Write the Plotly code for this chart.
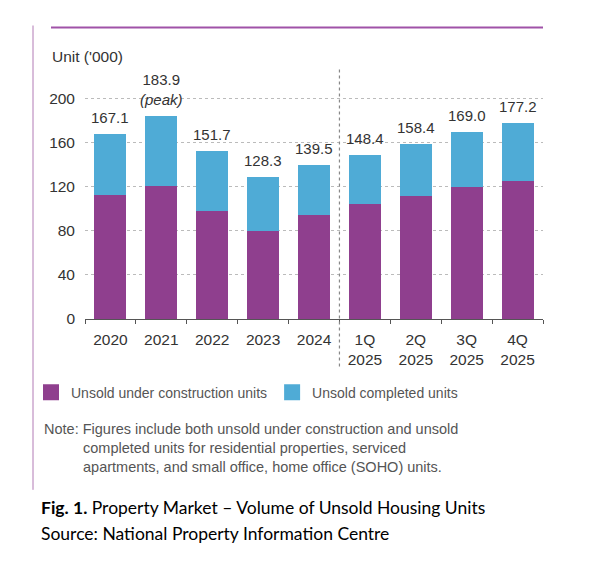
import plotly.graph_objects as go

categories = ["2020", "2021", "2022", "2023", "2024", "1Q<br>2025", "2Q<br>2025", "3Q<br>2025", "4Q<br>2025"]
under_construction = [112.3, 120.1, 97.8, 80.0, 94.2, 104.5, 111.1, 119.6, 125.3]
completed = [54.8, 63.8, 53.9, 48.3, 45.3, 43.9, 47.3, 49.4, 51.9]
totals = [167.1, 183.9, 151.7, 128.3, 139.5, 148.4, 158.4, 169.0, 177.2]
total_labels = ["167.1", "183.9<br><i>(peak)</i>", "151.7", "128.3", "139.5", "148.4", "158.4", "169.0", "177.2"]
y_ticks = [0, 40, 80, 120, 160, 200]
series_names = ["Unsold under construction units", "Unsold completed units"]

PURPLE = "#8F3F8E"
BLUE = "#4FABD6"
FONT = "Liberation Sans, Arial, sans-serif"
CAP_FONT = "Lato, Open Sans, sans-serif"

fig = go.Figure()
fig.add_trace(go.Bar(
    x=categories, y=under_construction, name=series_names[0], showlegend=False,
    marker=dict(color=PURPLE, line=dict(width=0)),
))
fig.add_trace(go.Bar(
    x=categories, y=completed, name=series_names[1], showlegend=False,
    marker=dict(color=BLUE, line=dict(width=0)),
))
# legend entries with larger square swatches
for nm, col in zip(series_names, [PURPLE, BLUE]):
    fig.add_trace(go.Scatter(x=[categories[0]], y=[None], mode="markers", name=nm,
                             marker=dict(symbol="square", size=18, color=col)))

OFF = 8  # browser body margin
W, H = 602, 562
l = 85 - OFF
right = 543 - OFF
r = W - right
y0px = 319.3 - OFF
ppu = 1.1038
ymax = 220
t = y0px - ymax * ppu
b = H - y0px
ph = H - t - b
pw = W - l - r

def px_x(px):
    return (px - OFF - l) / pw

def px_y(py):
    return (y0px - (py - OFF)) / ph

shapes = [
    dict(type="line", xref="paper", yref="paper", x0=px_x(51), x1=px_x(543), y0=px_y(28), y1=px_y(28),
         line=dict(color="#A052A8", width=2)),
    dict(type="line", xref="paper", yref="paper", x0=px_x(33), x1=px_x(33), y0=px_y(26), y1=px_y(490),
         line=dict(color="#B27AB5", width=1)),
    dict(type="line", xref="x", yref="paper", x0=4.5, x1=4.5, y0=px_y(70), y1=px_y(368),
         line=dict(color="#888888", width=1.2, dash="3px,3px")),
]

annotations = []
for i, (tot, lab) in enumerate(zip(totals, total_labels)):
    annotations.append(dict(text=lab, x=i, y=tot, xref="x", yref="y", xanchor="center", yanchor="bottom",
                            yshift=6, showarrow=False, font=dict(size=15, color="#333333", family=FONT)))

annotations += [
    dict(text="Unit ('000)", xref="paper", yref="paper", x=px_x(50), y=px_y(57), xanchor="left", yanchor="middle",
         showarrow=False, font=dict(size=15.5, color="#333333", family=FONT)),
    dict(text="Note: Figures include both unsold under construction and unsold", xref="paper", yref="paper",
         x=px_x(42), y=px_y(429), xanchor="left", yanchor="middle", showarrow=False,
         font=dict(size=14.5, color="#555555", family=FONT)),
    dict(text="completed units for residential properties, serviced", xref="paper", yref="paper",
         x=px_x(81), y=px_y(448), xanchor="left", yanchor="middle", showarrow=False,
         font=dict(size=14.5, color="#555555", family=FONT)),
    dict(text="apartments, and small office, home office (SOHO) units.", xref="paper", yref="paper",
         x=px_x(81), y=px_y(467), xanchor="left", yanchor="middle", showarrow=False,
         font=dict(size=14.5, color="#555555", family=FONT)),
    dict(text="<b>Fig. 1.</b> Property Market \u2013 Volume of Unsold Housing Units", xref="paper", yref="paper",
         x=px_x(39), y=px_y(508), xanchor="left", yanchor="middle", showarrow=False,
         font=dict(size=17.5, color="#000000", family=CAP_FONT)),
    dict(text="Source: National Property Information Centre", xref="paper", yref="paper",
         x=px_x(39), y=px_y(534), xanchor="left", yanchor="middle", showarrow=False,
         font=dict(size=17.5, color="#000000", family=CAP_FONT)),
]

fig.update_layout(
    width=W, height=H,
    margin=dict(l=l, r=r, t=t, b=b, pad=0),
    barmode="stack", bargap=0.37,
    paper_bgcolor="white", plot_bgcolor="white",
    font=dict(family=FONT, size=14, color="#333333"),
    showlegend=True,
    legend=dict(orientation="h", x=px_x(31), y=px_y(393), xanchor="left", yanchor="middle",
                font=dict(size=14, color="#555555", family=FONT), traceorder="normal",
                itemsizing="trace", bgcolor="rgba(0,0,0,0)"),
    shapes=shapes, annotations=annotations,
    xaxis=dict(type="category", categoryorder="array", categoryarray=categories,
               range=[-0.5, len(categories) - 0.5],
               showgrid=False, showline=True, linecolor="#555555", linewidth=1,
               ticks="outside", tickson="boundaries", ticklen=4, tickcolor="#555555",
               ticklabelstandoff=6, tickangle=0,
               tickfont=dict(size=15.5, color="#333333", family=FONT)),
    yaxis=dict(range=[0, ymax], tickvals=y_ticks, showline=False, zeroline=False,
               showgrid=True, gridcolor="#BBBBBB", griddash="3px,3px", gridwidth=1,
               ticks="", ticklabelstandoff=9,
               tickfont=dict(size=15.5, color="#333333", family=FONT)),
)

fig.write_html("out.html")
